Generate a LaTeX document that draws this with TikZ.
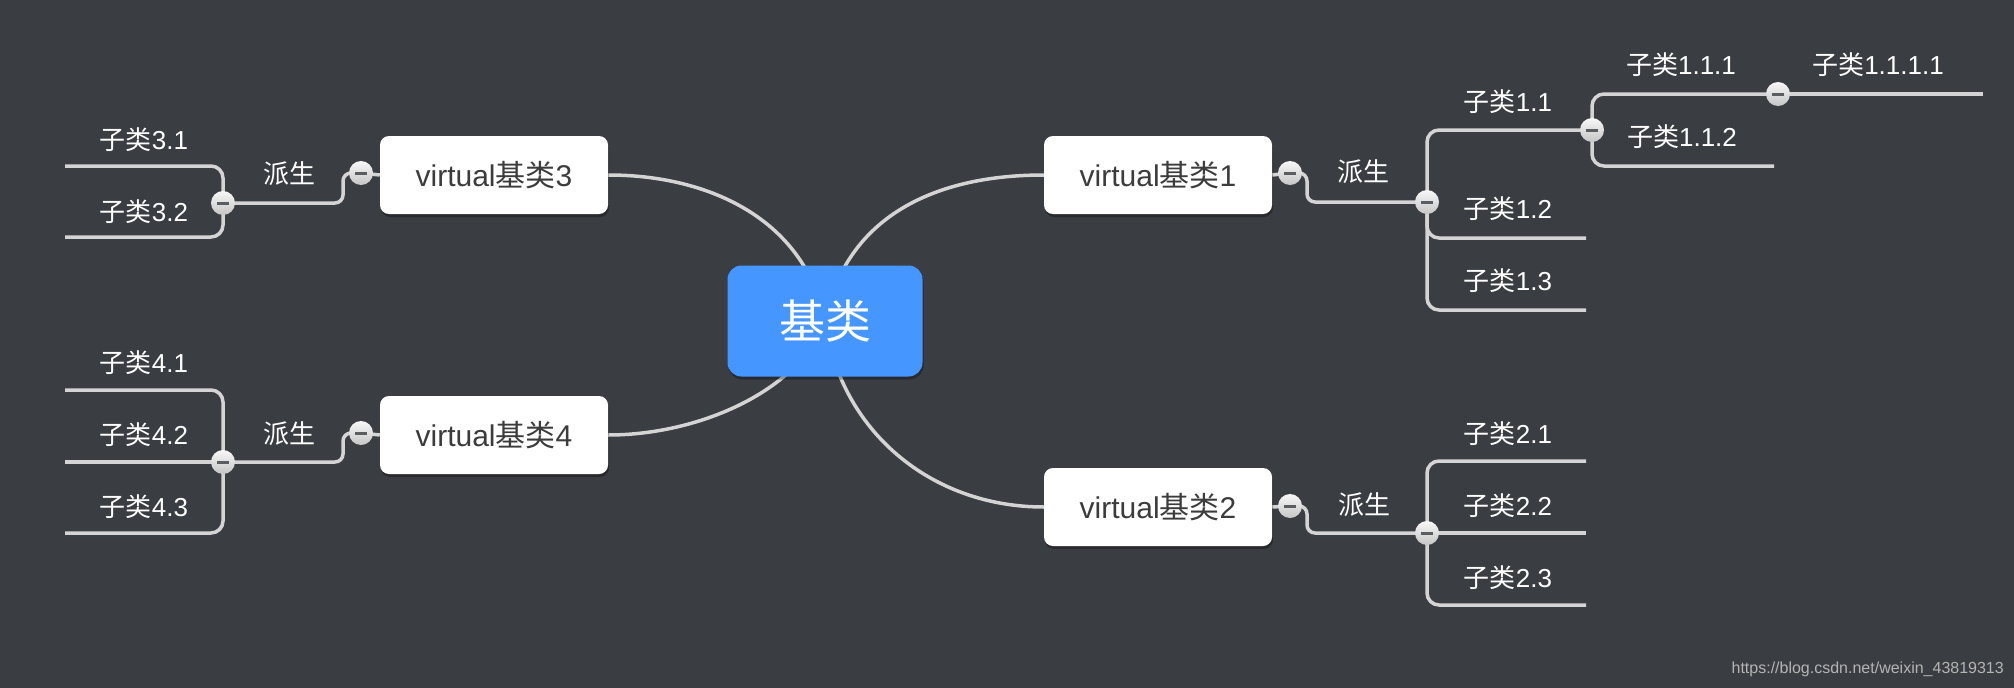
\documentclass[tikz,border=0pt]{standalone}
\usepackage{fontspec}
\setmainfont{Liberation Sans}
\newfontfamily\cjkfont{Noto Sans CJK SC}
\newcommand\zhtxt[1]{{\cjkfont #1}}
\usetikzlibrary{shadows}
\definecolor{bgc}{HTML}{3A3D42}
\definecolor{linec}{HTML}{D4D4D4}
\definecolor{basec}{HTML}{4696FF}
\definecolor{boxtext}{HTML}{3C3C3C}
\definecolor{btnminus}{HTML}{5A5D62}
\definecolor{wmc}{HTML}{B4B4B4}
\pgfdeclarelayer{bg}
\pgfsetlayers{bg,main}
\begin{document}
\begin{tikzpicture}[x=1pt,y=-1pt,
  base/.style={fill=basec, rounded corners=14pt, minimum width=195pt, minimum height=111pt,
    text=white, font=\fontsize{46}{50}\selectfont\cjkfont,
    drop shadow={shadow xshift=1pt, shadow yshift=-3pt, opacity=0.3, fill=black}},
  vbox/.style={fill=white, rounded corners=9pt, minimum width=228pt, minimum height=78pt,
    text=boxtext, font=\fontsize{30}{34}\selectfont, inner sep=0pt,
    drop shadow={shadow xshift=1pt, shadow yshift=-3pt, opacity=0.3, fill=black}},
  btn/.style={circle, minimum size=24pt, inner sep=0pt,
    top color=white!94!gray, bottom color=gray!45!white,
    path picture={\draw[btnminus, line width=3pt]
      ([xshift=-6pt]path picture bounding box.center) --
      ([xshift=6pt]path picture bounding box.center);}},
  lab/.style={text=white, font=\fontsize{26}{30}\selectfont, inner sep=0pt},
  conn/.style={draw=linec, line width=3.5pt},
  forkline/.style={conn, rounded corners=12pt},
  sbend/.style={conn, rounded corners=8pt}]

\useasboundingbox (0,0) rectangle (2014,688);

% nodes
\node[base] (base) at (825,321) {基类};
\node[vbox] (v1) at (1158,175) {virtual\zhtxt{基类}1};
\node[vbox] (v2) at (1158,507) {virtual\zhtxt{基类}2};
\node[vbox] (v3) at (494,175) {virtual\zhtxt{基类}3};
\node[vbox] (v4) at (494,435) {virtual\zhtxt{基类}4};

\node[btn] (c1) at (1290,173) {};
\node[btn] (c2) at (1290,506) {};
\node[btn] (c3) at (361,173) {};
\node[btn] (c4) at (361,433) {};
\node[btn] (f1) at (1427,202) {};
\node[btn] (f2) at (1427,533) {};
\node[btn] (f3) at (223,203) {};
\node[btn] (f4) at (223,462) {};
\node[btn] (f11) at (1592,130) {};
\node[btn] (c111) at (1778,94) {};

\node[lab] (d1) at (1363,172) {\zhtxt{派生}};
\node[lab] (d2) at (1364,505) {\zhtxt{派生}};
\node[lab] (d3) at (289,174) {\zhtxt{派生}};
\node[lab] (d4) at (289,434) {\zhtxt{派生}};

\node[lab] (l11) at (1508,102) {\zhtxt{子类}1.1};
\node[lab] (l12) at (1508,209) {\zhtxt{子类}1.2};
\node[lab] (l13) at (1508,281) {\zhtxt{子类}1.3};
\node[lab] (l111) at (1681,65) {\zhtxt{子类}1.1.1};
\node[lab] (l112) at (1682,137) {\zhtxt{子类}1.1.2};
\node[lab] (l1111) at (1878,65) {\zhtxt{子类}1.1.1.1};
\node[lab] (l21) at (1508,434) {\zhtxt{子类}2.1};
\node[lab] (l22) at (1508,506) {\zhtxt{子类}2.2};
\node[lab] (l23) at (1508,578) {\zhtxt{子类}2.3};
\node[lab] (l31) at (144,140) {\zhtxt{子类}3.1};
\node[lab] (l32) at (144,212) {\zhtxt{子类}3.2};
\node[lab] (l41) at (144,363) {\zhtxt{子类}4.1};
\node[lab] (l42) at (144,435) {\zhtxt{子类}4.2};
\node[lab] (l43) at (144,507) {\zhtxt{子类}4.3};

\node[anchor=east, text=wmc, font=\fontsize{16}{18}\selectfont, inner sep=0pt] (wm)
  at (2004,669) {https://blog.csdn.net/weixin\_43819313};

\coordinate (e12) at (1586,238);
\coordinate (e13) at (1586,310);
\coordinate (e112) at (1774,166);
\coordinate (e1111) at (1983,94);
\coordinate (e21) at (1586,461);
\coordinate (e22) at (1586,533);
\coordinate (e23) at (1586,605);
\coordinate (e31) at (65,166);
\coordinate (e32) at (65,237);
\coordinate (e41) at (65,390);
\coordinate (e42) at (65,462);
\coordinate (e43) at (65,533);

\begin{pgfonlayer}{bg}
\fill[bgc] (0,0) rectangle (2014,688);
% main curves
\draw[conn] (base.center) .. controls (845,220) and (930,175) .. (v1.west);
\draw[conn] (base.center) .. controls (840,430) and (930,507) .. (v2.west);
\draw[conn] (base.center) .. controls (805,220) and (710,175) .. (v3.east);
\draw[conn] (base.center) .. controls (800,390) and (700,435) .. (v4.east);
% box to button
\draw[conn] (v1.east) -- (c1.center);
\draw[conn] (v2.east) -- (c2.center);
\draw[conn] (v3.west) -- (c3.center);
\draw[conn] (v4.west) -- (c4.center);
% button to fork
\draw[sbend] (c1.center) -- ++(17,0) |- (f1.center);
\draw[sbend] (c2.center) -- ++(17,0) |- (f2.center);
\draw[sbend] (c3.center) -- ++(-18,0) |- (f3.center);
\draw[sbend] (c4.center) -- ++(-18,0) |- (f4.center);
% fork branches
\draw[forkline] (f1.center) |- (f11.center);
\draw[forkline] (f1.center) |- (e12);
\draw[forkline] (f1.center) |- (e13);
\draw[forkline] (f11.center) |- (c111.center);
\draw[forkline] (f11.center) |- (e112);
\draw[conn] (c111.center) -- (e1111);
\draw[forkline] (f2.center) |- (e21);
\draw[conn] (f2.center) -- (e22);
\draw[forkline] (f2.center) |- (e23);
\draw[forkline] (f3.center) |- (e31);
\draw[forkline] (f3.center) |- (e32);
\draw[forkline] (f4.center) |- (e41);
\draw[conn] (f4.center) -- (e42);
\draw[forkline] (f4.center) |- (e43);
\end{pgfonlayer}
\end{tikzpicture}
\end{document}
